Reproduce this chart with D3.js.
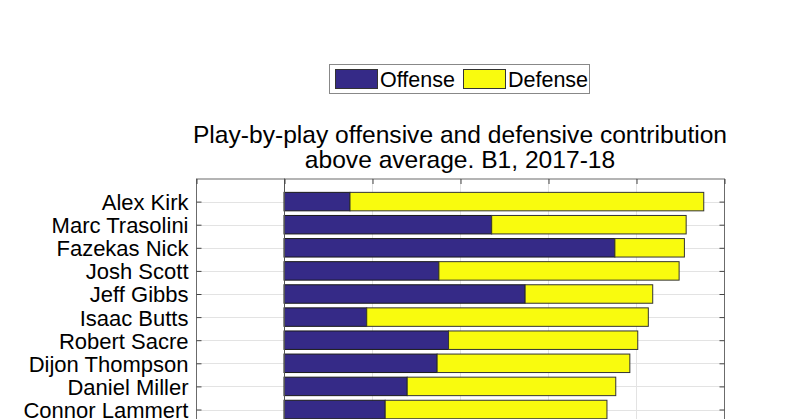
<!DOCTYPE html>
<html><head><meta charset="utf-8">
<script src="https://cdn.jsdelivr.net/npm/d3@7"></script>
<style>body{margin:0;background:#fff}svg{display:block}text{font-family:"Liberation Sans",Arial,sans-serif;fill:#000}</style>
</head><body>
<svg id="c" width="800" height="419"></svg>
<script>
const players = ["Alex Kirk","Marc Trasolini","Fazekas Nick","Josh Scott","Jeff Gibbs","Isaac Butts","Robert Sacre","Dijon Thompson","Daniel Miller","Connor Lammert"];
const offense = [0.75,2.36,3.76,1.76,2.74,0.94,1.87,1.74,1.40,1.15];
const defense = [4.02,2.21,0.79,2.73,1.45,3.20,2.15,2.19,2.37,2.52];
const xTicks = [-1,0,1,2,3,4,5];
const seriesNames = ["Offense","Defense"];
const colors = ["#352a87","#f9fb0e"];
const titleLines = ["Play-by-play offensive and defensive contribution","above average. B1, 2017-18"];

const svg = d3.select("#c");
const L = 196, R = 724, T = 178.5, step = 23.1;
const x = d3.scaleLinear().domain([-1,5]).range([L,R]);
const y = d3.scaleLinear().domain([0, players.length+1]).range([T, T+step*(players.length+1)]);
const B = y(players.length+1);
const bh = (y(1)-y(0))*0.8;

const g = svg.append("g");
// grid
g.selectAll(".vg").data(xTicks).join("line")
 .attr("x1",d=>x(d)+0.5).attr("x2",d=>x(d)+0.5).attr("y1",T).attr("y2",B)
 .attr("stroke","#e3e3e3").attr("stroke-width",1);
g.selectAll(".hg").data(players).join("line")
 .attr("x1",L).attr("x2",R).attr("y1",(d,i)=>Math.round(y(i+1))+0.5).attr("y2",(d,i)=>Math.round(y(i+1))+0.5)
 .attr("stroke","#e3e3e3").attr("stroke-width",1);

// bars
const stack = players.map((p,i)=>({p,i,o:offense[i],d:defense[i]}));
g.selectAll(".bo").data(stack).join("rect")
 .attr("x",d=>x(0)).attr("width",d=>x(d.o)-x(0))
 .attr("y",d=>y(d.i+1)-bh/2).attr("height",bh)
 .attr("fill",colors[0]).attr("stroke","#1a1a1a").attr("stroke-width",1);
g.selectAll(".bd").data(stack).join("rect")
 .attr("x",d=>x(d.o)).attr("width",d=>x(d.o+d.d)-x(d.o))
 .attr("y",d=>y(d.i+1)-bh/2).attr("height",bh)
 .attr("fill",colors[1]).attr("stroke","#333").attr("stroke-width",1);

// baseline
g.append("line").attr("x1",x(0)+0.5).attr("x2",x(0)+0.5).attr("y1",T).attr("y2",B).attr("stroke","#555").attr("stroke-width",1);

// axes box
const ac = "#6b6b6b";
g.append("rect").attr("x",L+0.5).attr("y",T+0.5).attr("width",R-L).attr("height",B-T).attr("fill","none").attr("stroke",ac).attr("stroke-width",1);
// y ticks via d3 axis
const yAxis = d3.axisLeft(y).tickValues(d3.range(1,players.length+1)).tickSize(-5).tickFormat(i=>players[i-1]).tickPadding(8);
const ya = g.append("g").attr("transform",`translate(${L+0.5},0)`).call(yAxis);
ya.select(".domain").remove();
ya.selectAll("line").attr("stroke","#444");
ya.selectAll("text").style("font-size","22px").attr("fill","#1a1a1a").attr("dy","0.36em");
const yAxisR = d3.axisRight(y).tickValues(d3.range(1,players.length+1)).tickSize(-5).tickFormat("");
const yr = g.append("g").attr("transform",`translate(${R+0.5},0)`).call(yAxisR);
yr.select(".domain").remove(); yr.selectAll("line").attr("stroke","#444");
const xAxisT = d3.axisTop(x).tickValues(xTicks).tickSize(-5).tickFormat("");
const xt = g.append("g").attr("transform",`translate(0.5,${T+0.5})`).call(xAxisT);
xt.select(".domain").remove(); xt.selectAll("line").attr("stroke","#444");

// title
svg.append("text").attr("x",(L+R)/2).attr("text-anchor","middle").style("font-size","24.6px")
 .selectAll("tspan").data(titleLines).join("tspan").attr("x",(L+R)/2).attr("y",(d,i)=>143+i*25).text(d=>d);

// legend
const lg = svg.append("g");
lg.append("rect").attr("x",329.5).attr("y",64.5).attr("width",260).attr("height",29).attr("fill","#fff").attr("stroke","#888");
const items = [{n:seriesNames[0],c:colors[0],px:335},{n:seriesNames[1],c:colors[1],px:463}];
lg.selectAll(".li").data(items).join("rect").attr("x",d=>d.px+0.5).attr("y",69.5).attr("width",42).attr("height",19)
 .attr("fill",d=>d.c).attr("stroke","#333");
lg.selectAll(".lt").data(items).join("text").attr("x",d=>d.px+45).attr("y",87).style("font-size","21.5px").text(d=>d.n);
</script>
</body></html>
